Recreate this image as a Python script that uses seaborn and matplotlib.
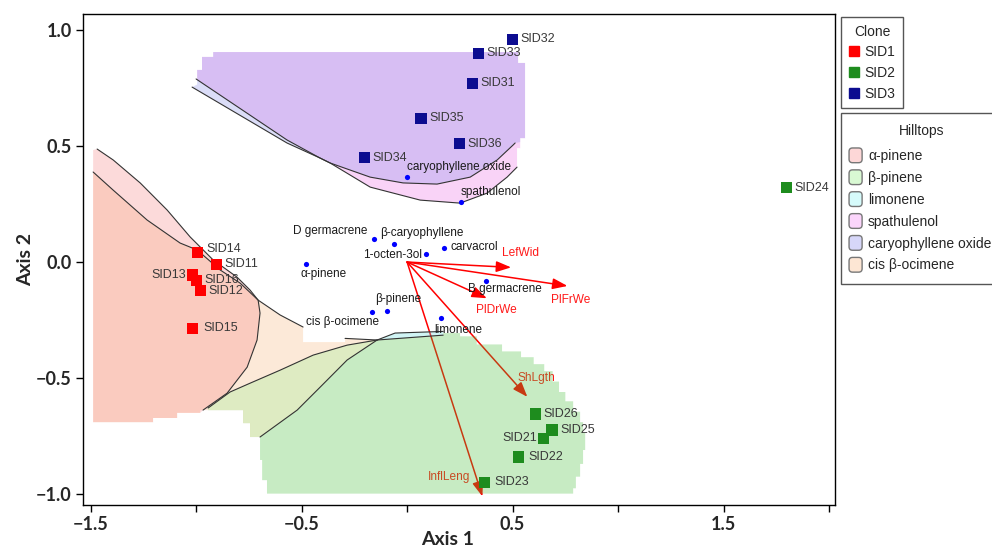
import numpy as np
import pandas as pd
import matplotlib.pyplot as plt
import seaborn as sns
from matplotlib.lines import Line2D
from matplotlib.patches import FancyBboxPatch, Patch
from matplotlib.legend_handler import HandlerPatch
from matplotlib.font_manager import FontProperties

# ── DATA ──────────────────────────────────────────────────────
sid_names = ["SID11", "SID12", "SID13", "SID14", "SID15", "SID16",
             "SID21", "SID22", "SID23", "SID24", "SID25", "SID26",
             "SID31", "SID32", "SID33", "SID34", "SID35", "SID36"]
sid_x = [-0.902, -0.981, -1.016, -0.994, -1.016, -0.997,
         0.645, 0.530, 0.365, 1.800, 0.687, 0.607,
         0.310, 0.500, 0.340, -0.200, 0.066, 0.250]
sid_y = [-0.009, -0.124, -0.056, 0.042, -0.286, -0.078,
         -0.760, -0.840, -0.950, 0.320, -0.724, -0.655,
         0.770, 0.960, 0.900, 0.450, 0.620, 0.510]
sid_clone = ["SID1"] * 6 + ["SID2"] * 6 + ["SID3"] * 6

clone_names = ["SID1", "SID2", "SID3"]
clone_colors = ["#FF0000", "#1E8C1E", "#0C0C90"]

comp_names = ["caryophyllene oxide", "spathulenol", "D germacrene", "β-caryophyllene",
              "1-octen-3ol", "carvacrol", "α-pinene", "B germacrene",
              "β-pinene", "cis β-ocimene", "limonene"]
comp_x = [-0.001, 0.254, -0.156, -0.062, 0.090, 0.177, -0.480, 0.374, -0.095, -0.164, 0.160]
comp_y = [0.368, 0.260, 0.098, 0.076, 0.034, 0.062, -0.009, -0.082, -0.210, -0.216, -0.240]

vec_names = ["LefWid", "PlFrWe", "PlDrWe", "ShLgth", "InflLeng"]
vec_x = [0.493, 0.760, 0.378, 0.570, 0.357]
vec_y = [-0.023, -0.103, -0.156, -0.581, -1.010]

# hilltop regions (outline of each grid region)
hill_names = ["α-pinene", "β-pinene", "limonene", "spathulenol",
              "caryophyllene oxide", "cis β-ocimene"]

ap_x = [-1.488, -1.469, -1.393, -1.265, -1.137, -1.028, -0.919, -0.806, -0.744, -0.706,
        -0.697, -0.711, -0.758, -0.853, -0.967, -0.981, -1.090, -1.090, -1.204, -1.204, -1.488]
ap_y = [0.483, 0.487, 0.440, 0.341, 0.224, 0.108, 0.009, -0.065, -0.121, -0.164,
        -0.220, -0.336, -0.453, -0.565, -0.638, -0.650, -0.650, -0.672, -0.672, -0.690, -0.690]

oc_x = [-1.488, -1.393, -1.232, -1.076, -0.995, -0.886, -0.791, -0.706, -0.602, -0.493,
        -0.493, -0.294, -0.294, -0.142, -0.284, -0.412, -0.521, -0.697, -0.744, -0.744,
        -0.777, -0.777, -0.981, -0.981, -1.090, -1.090, -1.204, -1.204, -1.488]
oc_y = [0.388, 0.310, 0.181, 0.082, 0.052, -0.034, -0.091, -0.164, -0.228, -0.280,
        -0.345, -0.345, -0.329, -0.336, -0.422, -0.539, -0.638, -0.754, -0.754, -0.694,
        -0.694, -0.638, -0.638, -0.650, -0.650, -0.672, -0.672, -0.690, -0.690]

bp_x = [-0.142, -0.284, -0.445, -0.602, -0.744, -0.839, -0.943, -0.943, -0.777, -0.777,
        -0.744, -0.744, -0.697, -0.697, -0.687, -0.687, -0.664, -0.664, -0.635,
        0.787, 0.787, 0.800, 0.800, 0.820, 0.820, 0.834, 0.834, 0.844, 0.844,
        0.834, 0.834, 0.820, 0.820, 0.787, 0.787, 0.750, 0.750, 0.720, 0.720,
        0.690, 0.690, 0.650, 0.650, 0.600, 0.600, 0.540, 0.540, 0.450, 0.450,
        0.330, 0.330, 0.251, 0.251, 0.171, 0.171]
bp_y = [-0.336, -0.358, -0.401, -0.466, -0.522, -0.560, -0.629, -0.638, -0.638, -0.694,
        -0.694, -0.754, -0.754, -0.853, -0.853, -0.940, -0.940, -0.998, -0.998,
        -0.998, -0.975, -0.975, -0.925, -0.925, -0.870, -0.870, -0.810, -0.810, -0.735,
        -0.735, -0.690, -0.690, -0.645, -0.645, -0.600, -0.600, -0.560, -0.560, -0.515,
        -0.515, -0.470, -0.470, -0.440, -0.440, -0.410, -0.410, -0.385, -0.385, -0.355,
        -0.355, -0.320, -0.320, -0.306, -0.306, -0.315]

li_x = [-0.142, -0.057, 0.171, 0.171]
li_y = [-0.336, -0.306, -0.299, -0.315]

co_x = [-0.995, -0.995, -0.972, -0.972, -0.919, -0.919, 0.526, 0.526, 0.559, 0.559,
        0.536, 0.536, 0.512, 0.502, 0.427, 0.299, 0.142, -0.019, -0.175, -0.365,
        -0.412, -0.569, -1.019]
co_y = [0.765, 0.828, 0.828, 0.884, 0.884, 0.905, 0.905, 0.858, 0.858, 0.534,
        0.534, 0.517, 0.513, 0.504, 0.440, 0.366, 0.336, 0.341, 0.366, 0.427,
        0.448, 0.513, 0.754]

sp_x = [-0.995, -0.995, -0.972, -0.972, -0.919, -0.919, 0.526, 0.526, 0.559, 0.559,
        0.536, 0.536, 0.521, 0.521, 0.474, 0.379, 0.251, 0.062, -0.175, -0.365,
        -0.412, -0.569, -1.000]
sp_y = [0.789, 0.828, 0.828, 0.884, 0.884, 0.905, 0.905, 0.858, 0.858, 0.534,
        0.534, 0.491, 0.491, 0.409, 0.366, 0.297, 0.254, 0.267, 0.323, 0.427,
        0.448, 0.526, 0.789]

# where cis β-ocimene and β-pinene overlap
ov_x = bp_x[:13] + oc_x[13:18][::-1]
ov_y = bp_y[:13] + oc_y[13:18][::-1]

# black boundary curves between hilltops
boundary_lines = [
    (ap_x[1:15], ap_y[1:15]),
    (oc_x[:10], oc_y[:10]),
    ([-0.294, -0.142, 0.171], [-0.329, -0.336, -0.315]),
    (oc_x[13:18], oc_y[13:18]),
    (bp_x[:7], bp_y[:7]),
    ([-0.142, -0.057, 0.171], [-0.336, -0.306, -0.299]),
    (co_x[12:][::-1], co_y[12:][::-1]),
    (sp_x[13:][::-1], sp_y[13:][::-1]),
]

xtick_vals = [-1.5, -1.0, -0.5, 0.0, 0.5, 1.0, 1.5, 2.0]
xtick_labels = ["−1.5", "", "−0.5", "", "0.5", "", "1.5", ""]
ytick_vals = [-1.0, -0.5, 0.0, 0.5, 1.0]
ytick_labels = ["−1.0", "−0.5", "0.0", "0.5", "1.0"]

# ── STYLE ─────────────────────────────────────────────────────
sns.set_theme(style="ticks")
plt.rcParams["font.family"] = ["Liberation Sans", "DejaVu Sans"]

# fill colours are drawn translucent so overlaps mix: (colour, alpha)
fill_style = {"β-pinene": ("#47BF3B", 0.3), "cis β-ocimene": ("#FBD7B8", 0.55),
              "limonene": ("#66DDDD", 0.3), "α-pinene": ("#F88787", 0.3),
              "spathulenol": ("#EE6EE6", 0.3), "caryophyllene oxide": ("#8A8FEB", 0.3)}
overlap_color = "#DEEBC2"
legend_colors = ["#FDD7D7", "#D9F9D3", "#D6FBFB", "#FBD5FB", "#D7D7F9", "#FDE6D4"]
regions = [("β-pinene", bp_x, bp_y), ("cis β-ocimene", oc_x, oc_y),
           ("limonene", li_x, li_y), ("α-pinene", ap_x, ap_y),
           ("spathulenol", sp_x, sp_y), ("caryophyllene oxide", co_x, co_y)]

sid_offsets = {"SID13": (-7, 0, "right"), "SID21": (-6, 0, "right"),
               "SID14": (9, 3, "left"), "SID15": (11, 0, "left"),
               "SID22": (9, 0, "left"), "SID23": (10, 0, "left")}
comp_offsets = {"caryophyllene oxide": (0, 10, "left"), "spathulenol": (0, 10, "left"),
                "D germacrene": (-7, 8, "right"), "β-caryophyllene": (-14, 11, "left"),
                "1-octen-3ol": (-4, -1, "right"), "carvacrol": (6, 1, "left"),
                "α-pinene": (-5, -10, "left"), "B germacrene": (-18, -8, "left"),
                "β-pinene": (-12, 12, "left"), "cis β-ocimene": (-66, -10, "left"),
                "limonene": (-7, -12, "left")}
vec_offsets = {"LefWid": (-9, 14, "left"), "PlFrWe": (-16, -14, "left"),
               "PlDrWe": (-11, -12, "left"), "ShLgth": (-10, 19, "left"),
               "InflLeng": (-12, 19, "right")}

# ── FIGURE ────────────────────────────────────────────────────
fig = plt.figure(figsize=(9.92, 5.5), dpi=100)
ax = fig.add_axes([83 / 992, 45 / 550, 752 / 992, 491 / 550])

sid_df = pd.DataFrame({"name": sid_names, "x": sid_x, "y": sid_y, "clone": sid_clone})
comp_df = pd.DataFrame({"name": comp_names, "x": comp_x, "y": comp_y})

# biplot vectors (under the hilltop fills so they get tinted)
for name, vx, vy in zip(vec_names, vec_x, vec_y):
    ax.annotate("", xy=(vx, vy), xytext=(0, 0),
                arrowprops=dict(arrowstyle="-|>,head_length=0.6,head_width=0.22",
                                color="red", lw=1.1, shrinkA=0, shrinkB=0,
                                mutation_scale=15), zorder=2)
    dx, dy, ha = vec_offsets[name]
    ax.annotate(name, xy=(vx, vy), xytext=(dx, dy), textcoords="offset pixels",
                ha=ha, va="center", color="#FF1A1A", fontsize=8.6, zorder=2)

# hilltop regions
for name, rx, ry in regions:
    col, a = fill_style[name]
    ax.fill(rx, ry, color=col, alpha=a, lw=0, zorder=3)
ax.fill(ov_x, ov_y, color=overlap_color, lw=0, zorder=3.5)
for lx, ly in boundary_lines:
    ax.plot(lx, ly, color="#333333", lw=0.8, zorder=4)

# text labels
for _, r in sid_df.iterrows():
    dx, dy, ha = sid_offsets.get(r["name"], (8, 0, "left"))
    ax.annotate(r["name"], xy=(r["x"], r["y"]), xytext=(dx, dy), textcoords="offset pixels",
                ha=ha, va="center", color="#383838", fontsize=9, zorder=5)
for _, r in comp_df.iterrows():
    dx, dy, ha = comp_offsets[r["name"]]
    ax.annotate(r["name"], xy=(r["x"], r["y"]), xytext=(dx, dy), textcoords="offset pixels",
                ha=ha, va="center", color="#1a1a1a", fontsize=8.5, zorder=5)

# points
sns.scatterplot(data=sid_df, x="x", y="y", hue="clone", hue_order=clone_names,
                palette=clone_colors, marker="s", s=64, linewidth=0,
                legend=False, ax=ax, zorder=6)
sns.scatterplot(data=comp_df, x="x", y="y", color="#0000FF", s=14, linewidth=0,
                legend=False, ax=ax, zorder=6)

ax.set_xlim(-1.536, 2.028)
ax.set_ylim(-1.047, 1.069)
ax.set_xticks(xtick_vals)
ax.set_xticklabels(xtick_labels)
ax.set_yticks(ytick_vals)
ax.set_yticklabels(ytick_labels)
ax.tick_params(direction="out", length=5, width=1, color="black", pad=3)
tick_font = FontProperties(family=["Lato", "DejaVu Sans"], weight="bold", size=13)
for t in ax.get_xticklabels() + ax.get_yticklabels():
    t.set_fontproperties(tick_font)
label_font = FontProperties(family=["Lato", "DejaVu Sans"], weight="bold", size=14)
ax.set_xlabel("Axis 1", fontproperties=label_font)
ax.set_ylabel("Axis 2", fontproperties=label_font)
ax.xaxis.set_label_coords(0.485, -0.052)
ax.yaxis.set_label_coords(-0.065, 0.5)
for sp in ax.spines.values():
    sp.set_color("black")
    sp.set_linewidth(1.0)


# ── LEGENDS ───────────────────────────────────────────────────
class HandlerRoundBox(HandlerPatch):
    def create_artists(self, legend, orig_handle, xdescent, ydescent,
                       width, height, fontsize, trans):
        # sizes here are in points
        p = FancyBboxPatch((-xdescent - 2.2, -ydescent - 0.5), 9.4, height + 1,
                           boxstyle="round,pad=0,rounding_size=2.5",
                           facecolor=orig_handle.get_facecolor(),
                           edgecolor="#777777", lw=1.0, transform=trans)
        return [p]


clone_handles = [Line2D([], [], marker="s", color=c, linestyle="", markersize=7.5)
                 for c in clone_colors]
leg1 = fig.legend(clone_handles, clone_names, loc="upper left",
                  bbox_to_anchor=(841 / 992, 1 - 17 / 550), title="Clone",
                  fontsize=10, title_fontsize=10, frameon=True, fancybox=False,
                  edgecolor="#555555", framealpha=1, handlelength=0.8,
                  handletextpad=0.35, labelspacing=0.48, borderpad=0.55, borderaxespad=0)
leg1.get_frame().set_linewidth(1.0)

hill_handles = [Patch(facecolor=c) for c in legend_colors]
leg2 = fig.legend(hill_handles, hill_names, loc="upper left",
                  bbox_to_anchor=(841 / 992, 1 - 113 / 550), title="Hilltops",
                  handler_map={Patch: HandlerRoundBox()},
                  fontsize=10, title_fontsize=10, frameon=True, fancybox=False,
                  edgecolor="#555555", framealpha=1, handlelength=0.75, handleheight=1.1,
                  handletextpad=0.4, labelspacing=0.54, borderpad=0.8, borderaxespad=0)
leg2._legend_box.sep = 7.6  # a little more room under the title
leg2.get_frame().set_linewidth(1.0)

fig.savefig("out.png", dpi=100)
